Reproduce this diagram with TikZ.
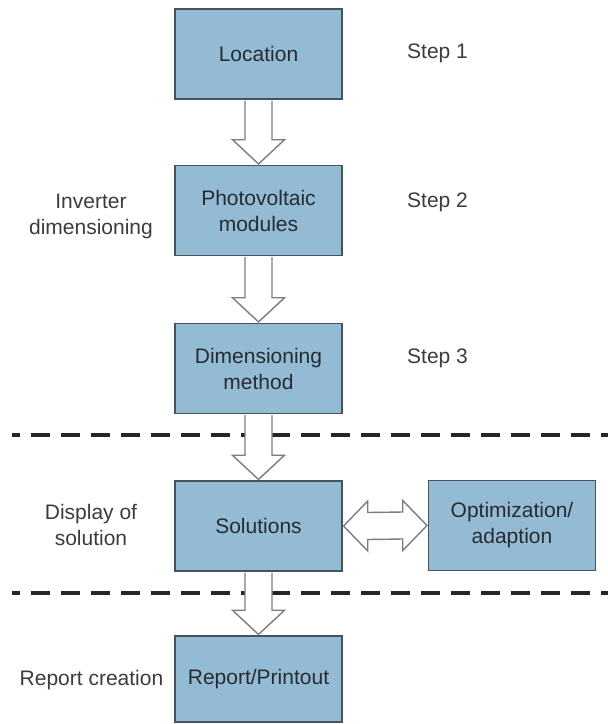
\documentclass[tikz,border=0pt]{standalone}
\usepackage{fontspec}
\setmainfont{Liberation Sans}
\usetikzlibrary{calc}
\definecolor{boxfill}{RGB}{147,187,212}
\definecolor{boxline}{RGB}{70,82,94}
\definecolor{arrline}{RGB}{125,125,125}
\definecolor{txt}{RGB}{40,44,48}
\definecolor{lbl}{RGB}{60,60,60}
\begin{document}
\begin{tikzpicture}[x=1pt,y=-1pt,
  stepbox/.style={draw=boxline,line width=1.5pt,fill=boxfill,minimum width=167pt,minimum height=90pt,
    inner sep=0pt,align=center,text=txt,font=\fontsize{21}{26}\selectfont},
  sidelabel/.style={align=center,text=lbl,font=\fontsize{21}{26}\selectfont,inner sep=0pt},
  blockarrow/.style={draw=arrline,line width=1.4pt,fill=white,line join=miter},
  sepline/.style={line width=4pt,dash pattern=on 19pt off 11pt,dash phase=11pt,color=black!85}]
\useasboundingbox (0,0) rectangle (608,724);
% separators
\coordinate (s1a) at (12,435); \coordinate (s1b) at (608,435);
\coordinate (s2a) at (12,593); \coordinate (s2b) at (608,593);
\draw[sepline] (s1a) -- (s1b);
\draw[sepline] (s2a) -- (s2b);
% boxes
\node[stepbox] (loc) at (258.5,54) {Location};
\node[stepbox] (pv) at (258.5,210.5) {Photovoltaic\\modules};
\node[stepbox] (dim) at (258.5,368.5) {Dimensioning\\method};
\node[stepbox] (sol) at (258.5,526) {Solutions};
\node[stepbox] (opt) at (512,525.5) {Optimization/\\adaption};
\node[stepbox,minimum height=86pt] (rep) at (258.5,679) {Report/Printout};
% down block arrows
\foreach \a/\b in {loc/pv,pv/dim,dim/sol,sol/rep}{
  \draw[blockarrow] ($(\a.south)+(-13.5,0.8)$) -- ($(\b.north)+(-13.5,-25)$) -- ($(\b.north)+(-26,-25)$)
    -- ($(\b.north)+(0,-0.8)$) -- ($(\b.north)+(26,-25)$) -- ($(\b.north)+(13.5,-25)$) -- ($(\a.south)+(13.5,0.8)$);
}
% double block arrow
\draw[blockarrow] ($(sol.east)+(0.8,0)$) -- ($(sol.east)+(25,-25)$) -- ($(sol.east)+(25,-13.5)$)
  -- ($(opt.west)+(-25,-13.5)$) -- ($(opt.west)+(-25,-25)$) -- ($(opt.west)+(-0.8,0)$)
  -- ($(opt.west)+(-25,25)$) -- ($(opt.west)+(-25,13.5)$) -- ($(sol.east)+(25,13.5)$)
  -- ($(sol.east)+(25,25)$) -- cycle;
% step labels
\node[sidelabel,anchor=west] (st1) at (407,53) {Step 1};
\node[sidelabel,anchor=west] (st2) at (407,202) {Step 2};
\node[sidelabel,anchor=west] (st3) at (407,358) {Step 3};
% left labels
\node[sidelabel] (inv) at (91,216) {Inverter\\dimensioning};
\node[sidelabel] (disp) at (91,525) {Display of\\solution};
\node[sidelabel] (repc) at (91.5,680) {Report creation};
\end{tikzpicture}
\end{document}
